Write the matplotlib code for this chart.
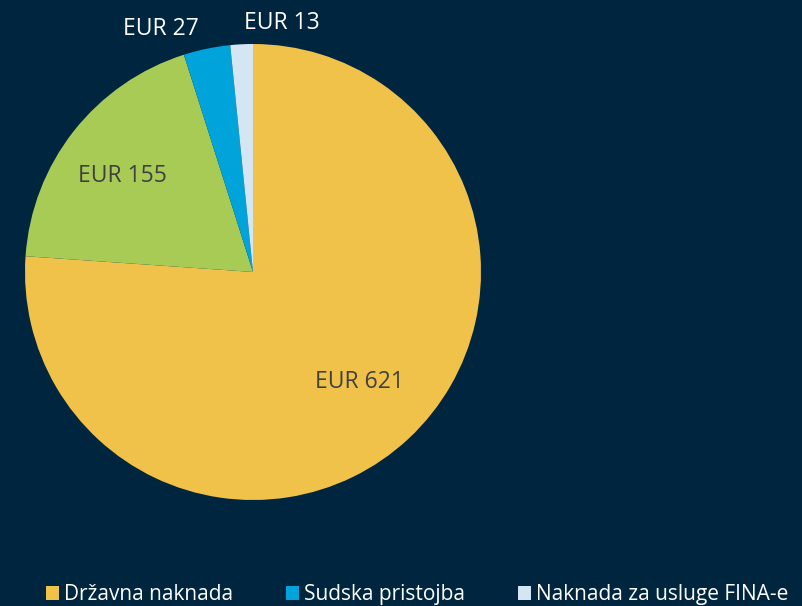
import numpy as np
import matplotlib.pyplot as plt

# slice values (EUR), clockwise from 12 o'clock
labels = ['Državna naknada', 'Naknada (ostalo)', 'Sudska pristojba', 'Naknada za usluge FINA-e']
values = [621, 155, 27, 13]
value_text = ['EUR 621', 'EUR 155', 'EUR 27', 'EUR 13']
colors = ['#F0C24A', '#A8CB56', '#00A3DA', '#D4E6F3']
legend_idx = [0, 2, 3]

bg = '#00263F'

fig = plt.figure(figsize=(8.02, 6.06), dpi=100, facecolor=bg)
ax = fig.add_axes([0, 0, 1, 1])
ax.set_facecolor(bg)

cx, cy, r = 253, 606 - 272, 228
wedges, _ = ax.pie(values, colors=colors, startangle=90, counterclock=False,
                   center=(cx, cy), radius=r, frame=True,
                   wedgeprops=dict(linewidth=0))
ax.set_xlim(0, 802)
ax.set_ylim(0, 606)
ax.axis('off')

# label placement: radius fraction, angle shift (deg), colour
lab_r = [0.67, 0.71, 1.14, 1.10]
lab_shift = [1, 2, 9, -9.5]
lab_col = ['#404040', '#404040', 'white', 'white']
for w, t, rf, sh, c in zip(wedges, value_text, lab_r, lab_shift, lab_col):
    ang = np.deg2rad((w.theta1 + w.theta2) / 2 + sh)
    ax.text(cx + rf * r * np.cos(ang), cy + rf * r * np.sin(ang), t,
            ha='center', va='center', fontsize=16.5, color=c,
            family=['Open Sans', 'DejaVu Sans'])

leg = ax.legend([wedges[i] for i in legend_idx], [labels[i] for i in legend_idx],
                loc='lower left', bbox_to_anchor=(27 / 802, -0.03), ncol=3,
                frameon=False, handlelength=0.65, handleheight=0.65,
                handletextpad=0.25, columnspacing=2.5,
                prop=dict(family=['Open Sans', 'DejaVu Sans'], size=15))
for t in leg.get_texts():
    t.set_color('white')

fig.savefig('out.png', dpi=100, facecolor=bg)
